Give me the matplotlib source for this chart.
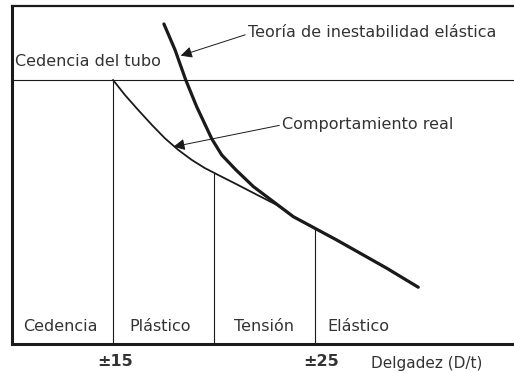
import matplotlib
matplotlib.use("Agg")
import matplotlib.pyplot as plt
import numpy as np

# data (x = D/t, y = relative stress, yield = 100)
yield_level = 100.0
real_x = [15.0, 15.59, 16.25, 16.92, 17.57, 18.23, 18.90, 19.55, 20.21, 21.04,
          22.28, 23.10, 23.93, 25.0, 26.07, 27.23, 28.55, 30.11]
real_y = [100.0, 94.3, 88.6, 83.0, 77.9, 73.5, 69.7, 66.6, 64.0, 60.8,
          55.9, 52.7, 48.2, 43.8, 39.4, 34.4, 28.7, 21.5]
theory_x = [17.52, 18.07, 18.60, 19.14, 19.89, 20.38, 21.09, 21.95, 22.94,
            23.93, 25.0, 26.07, 27.23, 28.55, 30.11]
theory_y = [121.2, 111.4, 100.0, 89.9, 77.7, 71.6, 65.9, 59.6, 53.9,
            48.2, 43.8, 39.4, 34.4, 28.7, 21.5]
limits_x = [15, 20, 25]
tick_labels = ["\u00b115", "\u00b125"]
zone_names = ["Cedencia", "Plástico", "Tensión", "Elástico"]

ink = "#1a1a1a"
txt = "#333333"
fs = 11.5

fig = plt.figure(figsize=(5.14, 3.73), dpi=100)
ax = fig.add_axes([12 / 514, 29 / 373, 502 / 514, 338 / 373])
ax.set_xlim(10, 34.85)
ax.set_ylim(0, 128)

# frame
ax.spines["right"].set_visible(False)
ax.spines["left"].set_linewidth(2.2)
ax.spines["bottom"].set_linewidth(2.2)
ax.spines["top"].set_linewidth(1.6)
for s in ["left", "bottom", "top"]:
    ax.spines[s].set_color(ink)

# yield line
ax.axhline(yield_level, color=ink, lw=0.8)

# curves
ax.plot(real_x, real_y, color=ink, lw=1.3, solid_capstyle="round", solid_joinstyle="round")
ax.plot(theory_x, theory_y, color=ink, lw=2.3, solid_capstyle="round", solid_joinstyle="round")

# zone boundaries
tops = [yield_level] + list(np.interp(limits_x[1:], real_x, real_y))
for xv, top in zip(limits_x, tops):
    ax.plot([xv, xv], [0, top], color=ink, lw=0.8)

# texts
ax.text(10.15, 106.8, "Cedencia del tubo", fontsize=fs, color=txt, va="center", ha="left")
ax.annotate("Teoría de inestabilidad elástica", xy=(18.35, 109.2), xytext=(21.68, 118.0),
            fontsize=fs, color=txt, va="center", ha="left",
            arrowprops=dict(arrowstyle="-|>", color=ink, lw=0.7, mutation_scale=17,
                            shrinkA=0, shrinkB=0, relpos=(0, 0.4)))
ax.annotate("Comportamiento real", xy=(17.99, 74.7), xytext=(23.37, 83.0),
            fontsize=fs, color=txt, va="center", ha="left",
            arrowprops=dict(arrowstyle="-|>", color=ink, lw=0.7, mutation_scale=17,
                            shrinkA=0, shrinkB=0, relpos=(0, 0.5)))

zone_x = [12.38, 17.33, 22.48, 25.6]
zone_ha = ["center", "center", "center", "left"]
for name, xv, ha in zip(zone_names, zone_x, zone_ha):
    ax.text(xv, 6.8, name, fontsize=fs, color=txt, va="center", ha=ha)

ax.set_yticks([])
ax.set_xticks([15.1, 25.3])
ax.set_xticklabels(tick_labels, fontsize=fs, color=txt, fontweight="bold")
ax.tick_params(axis="x", length=0, pad=7)
ax.text(27.77, -7.2, "Delgadez (D/t)", fontsize=11, color=txt, va="center", ha="left",
        clip_on=False)

fig.savefig("out.png", dpi=100)
